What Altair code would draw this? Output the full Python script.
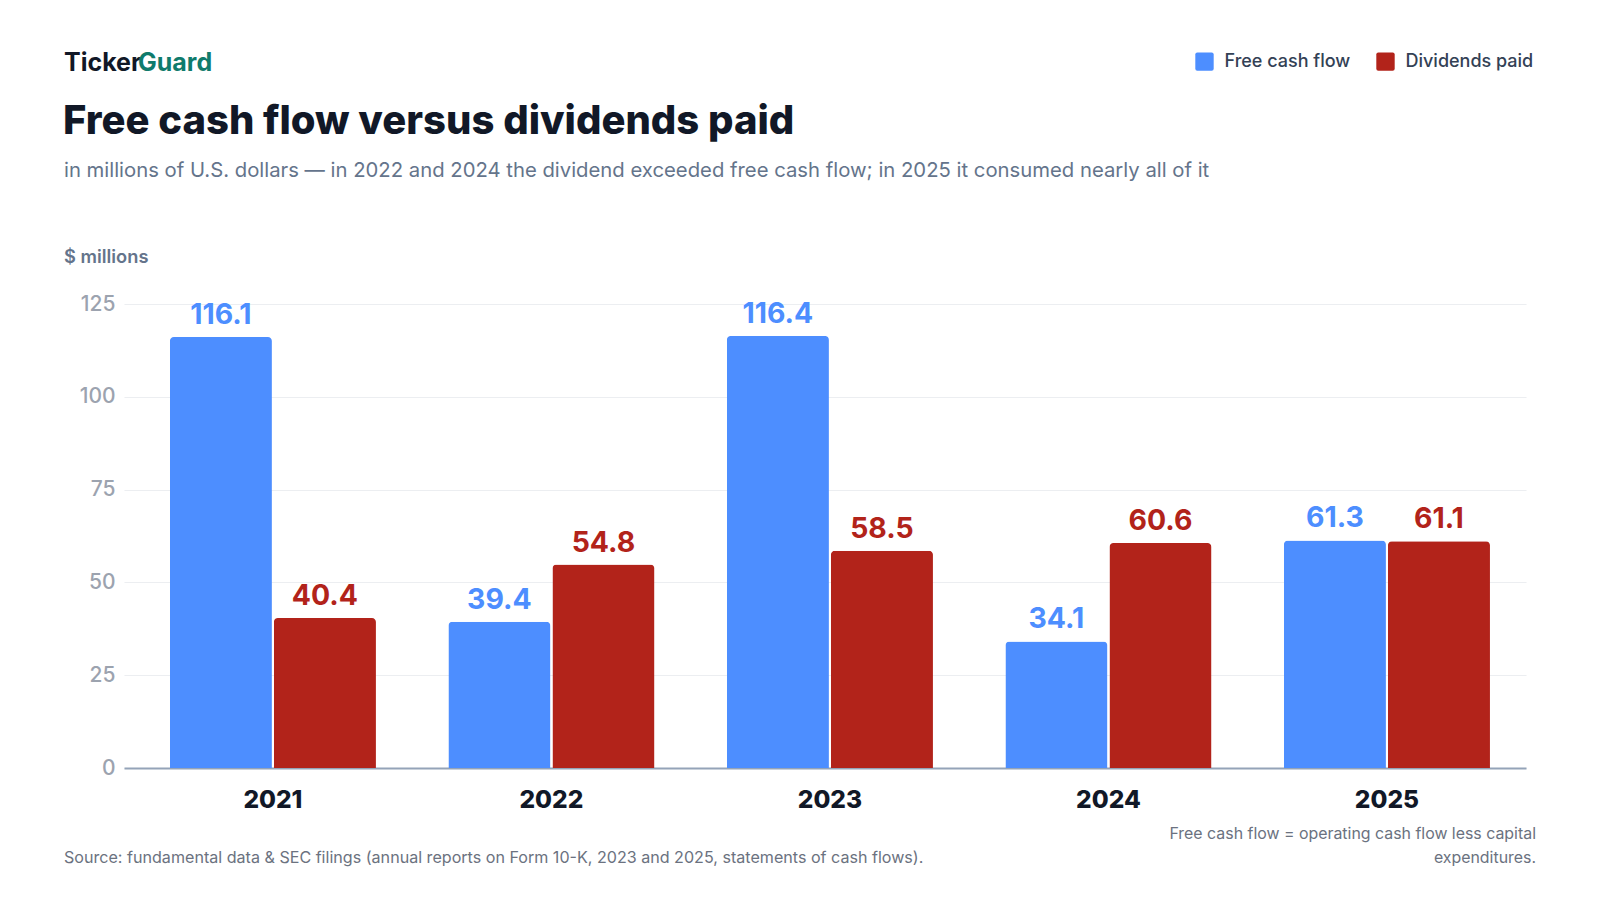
import altair as alt
import pandas as pd

years = ["2021", "2022", "2023", "2024", "2025"]
free_cash_flow = [116.1, 39.4, 116.4, 34.1, 61.3]
dividends_paid = [40.4, 54.8, 58.5, 60.6, 61.1]
series_names = ["Free cash flow", "Dividends paid"]
series_colors = ["#4D8EFF", "#B2231A"]
y_ticks = [0, 25, 50, 75, 100, 125]

rows = []
for i, yr in enumerate(years):
    rows.append({"year": yr, "series": series_names[0], "value": free_cash_flow[i]})
    rows.append({"year": yr, "series": series_names[1], "value": dividends_paid[i]})
df = pd.DataFrame(rows)

FONT = "Inter"
W, H = 1402, 464
PL, PT = 116, 296  # plot origin on page = 8 + padding

def px(x):
    return x - 8 - PL

def py(y):
    return y - 8 - PT

x_enc = alt.X("year:N", sort=years, title=None,
              scale=alt.Scale(paddingInner=0.26, paddingOuter=0.147, align=0.56),
              axis=alt.Axis(labelFontSize=24.5, labelFontWeight=800, labelColor="#111827",
                            labelFont=FONT, labelPadding=20, labelAngle=0, ticks=False,
                            domainColor="#94A3B8", domainWidth=2, grid=False))
xoff = alt.XOffset("series:N", sort=series_names, scale=alt.Scale(paddingInner=0.019))
y_enc = alt.Y("value:Q", title=None,
              scale=alt.Scale(domain=[0, 125], nice=False),
              axis=alt.Axis(values=y_ticks, labelFontSize=21, labelColor="#9CA3AF", labelFont=FONT,
                            labelFontWeight=500, labelPadding=9, ticks=False, domain=False,
                            gridColor="#ECEEF1", gridWidth=1.2))
color_enc = alt.Color("series:N", sort=series_names,
                      scale=alt.Scale(domain=series_names, range=series_colors),
                      legend=alt.Legend(title=None, orient="none", direction="horizontal",
                                        legendX=px(1195), legendY=py(52),
                                        symbolType="M-0.78,-1H0.78Q1,-1 1,-0.78V0.78Q1,1 0.78,1H-0.78Q-1,1 -1,0.78V-0.78Q-1,-1 -0.78,-1Z",
                                        symbolSize=338, symbolStrokeWidth=0, symbolOpacity=1,
                                        labelFontSize=18, labelFont=FONT, labelFontWeight=500,
                                        labelColor="#334155", labelOffset=10.5, columnPadding=25,
                                        padding=0))

base = alt.Chart(df)
bars = base.mark_bar(cornerRadiusTopLeft=4, cornerRadiusTopRight=4).encode(
    x=x_enc, xOffset=xoff, y=y_enc, color=color_enc)
labels = base.mark_text(font=FONT, fontSize=28.4, fontWeight="bold", baseline="alphabetic",
                        dy=-13).encode(
    x=alt.X("year:N", sort=years), xOffset=xoff, y="value:Q",
    text=alt.Text("value:Q", format=".1f"),
    color=alt.Color("series:N", sort=series_names,
                    scale=alt.Scale(domain=series_names, range=series_colors), legend=None))

def note(text, x, y, size, color, weight="normal", align="left"):
    return alt.Chart(pd.DataFrame({"t": [text]})).mark_text(
        font=FONT, fontSize=size, fontWeight=weight, color=color, align=align,
        baseline="alphabetic").encode(text="t:N", x=alt.value(px(x)), y=alt.value(py(y)))

texts = [
    note("Ticker", 64, 70.5, 25, "#111827", "bold"),
    note("Guard", 138, 70.5, 25, "#0F7B6C", "bold"),
    note("Free cash flow versus dividends paid", 63, 133.5, 40, "#111827", 800),
    note("in millions of U.S. dollars \u2014 in 2022 and 2024 the dividend exceeded free cash flow; in 2025 it consumed nearly all of it",
         64, 177, 20.3, "#64748B"),
    note("$ millions", 64, 263, 18.3, "#64748B", 600),
    note("Source: fundamental data & SEC filings (annual reports on Form 10-K, 2023 and 2025, statements of cash flows).",
         64, 863, 16.1, "#6B7280"),
    note("Free cash flow = operating cash flow less capital", 1536, 839, 15.9, "#6B7280", align="right"),
    note("expenditures.", 1536, 863, 15.9, "#6B7280", align="right"),
]

chart = alt.layer(bars, labels, *texts).properties(
    width=W, height=H,
    autosize=alt.AutoSizeParams(type="none"),
    padding={"left": PL, "top": PT, "right": 1582 - PL - W, "bottom": 880 - PT - H},
    background="white",
).configure_view(stroke=None)

chart.save("out.html", embed_options={"renderer": "svg", "actions": False})
